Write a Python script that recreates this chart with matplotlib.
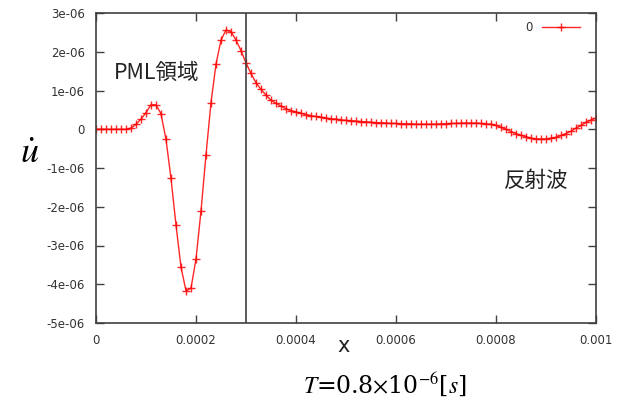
import matplotlib
matplotlib.use("Agg")
import matplotlib.pyplot as plt
import numpy as np

# node positions along x (every 1e-5) and the velocity values (in 1e-6)
x_pos = np.arange(101) * 1e-5
u_dot = np.array([
    0.00, 0.00, 0.00, 0.00, 0.00, 0.00, 0.00, 0.03, 0.13, 0.26,
    0.43, 0.63, 0.63, 0.40, -0.26, -1.27, -2.47, -3.56, -4.17, -4.10,
    -3.35, -2.11, -0.66, 0.69, 1.68, 2.30, 2.56, 2.52, 2.30, 2.03,
    1.71, 1.44, 1.20, 1.03, 0.88, 0.75, 0.67, 0.60, 0.53, 0.48,
    0.45, 0.41, 0.38, 0.35, 0.33, 0.31, 0.29, 0.27, 0.26, 0.24,
    0.23, 0.22, 0.21, 0.20, 0.19, 0.18, 0.17, 0.17, 0.16, 0.15,
    0.15, 0.14, 0.14, 0.14, 0.13, 0.13, 0.13, 0.13, 0.13, 0.14,
    0.14, 0.15, 0.15, 0.16, 0.16, 0.16, 0.16, 0.15, 0.14, 0.13,
    0.10, 0.05, 0.00, -0.06, -0.11, -0.16, -0.19, -0.23, -0.25, -0.25,
    -0.25, -0.23, -0.21, -0.16, -0.11, -0.05, 0.03, 0.10, 0.18, 0.24,
    0.29,
]) * 1e-6

x_ticks = [0, 0.0002, 0.0004, 0.0006, 0.0008, 0.001]
x_labels = ["0", "0.0002", "0.0004", "0.0006", "0.0008", "0.001"]
y_ticks = [-5e-6, -4e-6, -3e-6, -2e-6, -1e-6, 0, 1e-6, 2e-6, 3e-6]
y_labels = ["-5e-06", "-4e-06", "-3e-06", "-2e-06", "-1e-06", "0", "1e-06", "2e-06", "3e-06"]
pml_edge = 0.0003

plt.rcParams['font.family'] = ['DejaVu Sans']
plt.rcParams['mathtext.fontset'] = 'stix'

W, H = 617, 405
fig = plt.figure(figsize=(W / 100, H / 100), dpi=100)
ax = fig.add_axes([96 / W, 82 / H, 500 / W, 310 / H])

ax.plot(x_pos, u_dot, '-', color='#ff0000', lw=1.0, alpha=0.85,
        marker='+', markersize=6, markeredgewidth=1.0, label="0")
ax.axvline(pml_edge, color='#404040', lw=1.2)

ax.set_xlim(0, 0.001)
ax.set_ylim(-5e-6, 3e-6)
ax.set_xticks(x_ticks)
ax.set_xticklabels(x_labels)
ax.set_yticks(y_ticks)
ax.set_yticklabels(y_labels)
ax.tick_params(direction='in', length=6, width=1, color='#404040',
               top=True, right=True, labelsize=8.5, labelcolor='#333333', pad=8)
for s in ax.spines.values():
    s.set_color('#404040')
    s.set_linewidth(1.2)

# axis titles placed like the gnuplot output
fig.text(344 / W, 1 - 346 / H, "x", fontsize=15, color='#222222', ha='center', va='center')
fig.text(30 / W, 1 - 153 / H, r'$\dot{u}$', fontsize=26, ha='center', va='center')

fig.text(114 / W, 1 - 73 / H, "PML領域", fontsize=15.5, va='center', ha='left',
         family=['Noto Sans CJK JP', 'DejaVu Sans'], color='#222222')
fig.text(504 / W, 1 - 181 / H, "反射波", fontsize=15.5, va='center', ha='left',
         family=['Noto Sans CJK JP', 'DejaVu Sans'], color='#222222')

fig.text(385 / W, 1 - 384 / H, r'$T$=0.8$\times$10$^{-6}$[$s$]',
         fontsize=17, ha='center', va='center', family='serif')

ax.legend(loc='upper right', frameon=False, markerfirst=False, fontsize=8.5,
          handlelength=3.2, borderaxespad=0.3, labelcolor='#333333',
          bbox_to_anchor=(0.985, 1.0))

fig.savefig("out.png", dpi=100)
